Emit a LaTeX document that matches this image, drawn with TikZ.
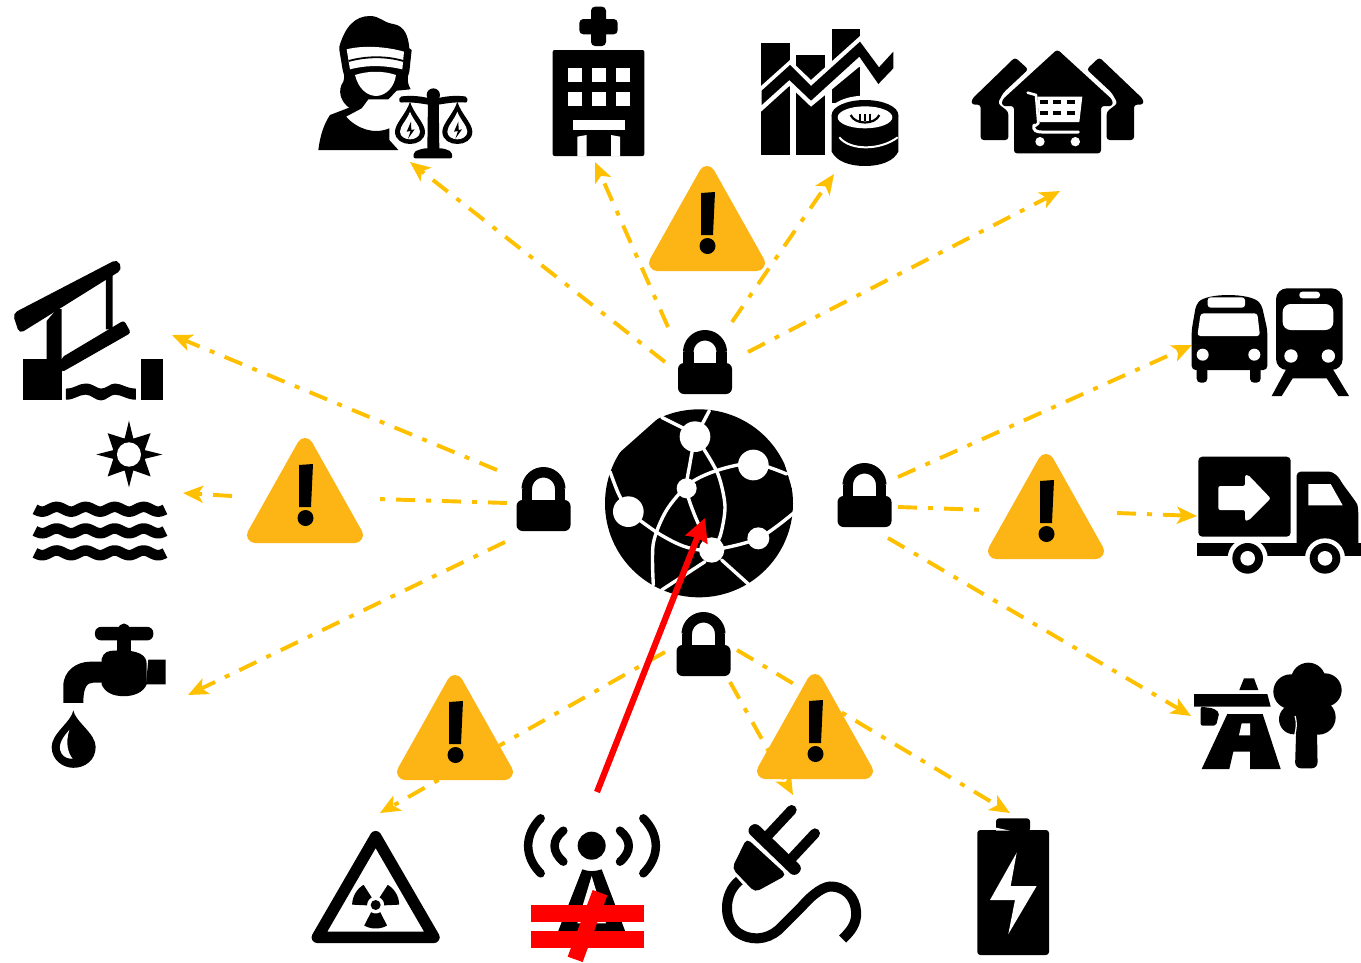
\documentclass[tikz,border=0pt]{standalone}
\usetikzlibrary{arrows.meta}
\definecolor{amberline}{HTML}{FFC000}
\definecolor{amberfill}{HTML}{FDB515}
\definecolor{redmark}{HTML}{FF0000}
\tikzset{
  link/.style={draw=amberline,line width=3.9pt,dash pattern=on 19pt off 11pt on 5pt off 11pt},
  linkarrow/.style={link,-{Stealth[length=20pt,width=17pt,inset=5pt]}},
  attack/.style={draw=redmark,line width=6.2pt,-{Stealth[length=23pt,width=23pt,inset=2pt]}},
  whitecut/.style={draw=white,line width=3.4pt,line cap=round},
  warnsign/.pic={
    \filldraw[amberfill,line width=16pt,line join=round] (0,-97) -- (-50,-8) -- (50,-8) -- cycle;
    \fill[black] (-6,-78) -- (8,-79) -- (6,-36) -- (-6,-36) -- cycle;
    \fill[black] (0.5,-25) circle[radius=8];
  },
  padlock/.pic={
    \draw[black,line width=10.5pt] plot[domain=180:360,samples=24] ({16.7*cos(\x)},{-42+16.7*sin(\x)});
    \draw[black,line width=10.5pt] (-16.7,-42) -- (-16.7,-28) (16.7,-42) -- (16.7,-28);
    \fill[black,rounded corners=6pt] (-27,-31) rectangle (27,0);
  },
}
\begin{document}
\begin{tikzpicture}[x=1pt,y=-1pt]
\useasboundingbox (0,0) rectangle (1361,962);
\fill[white] (0,0) rectangle (1361,962);

% connector ends
\coordinate (t1a) at (665,362); \coordinate (t1b) at (410,162);
\coordinate (t2a) at (668,327); \coordinate (t2b) at (595,162);
\coordinate (t3a) at (732,322); \coordinate (t3b) at (834,174);
\coordinate (t4a) at (748,352); \coordinate (t4b) at (1060,191);
\coordinate (l1a) at (497,470); \coordinate (l1b) at (172,335);
\coordinate (l2a) at (507,503); \coordinate (l2b) at (378,499);
\coordinate (l2c) at (232,496); \coordinate (l2d) at (183,493);
\coordinate (l3a) at (505,542); \coordinate (l3b) at (188,695);
\coordinate (r1a) at (898,477); \coordinate (r1b) at (1192,345);
\coordinate (r2a) at (898,507); \coordinate (r2b) at (985,510);
\coordinate (r2c) at (1117,513); \coordinate (r2d) at (1197,516);
\coordinate (r3a) at (888,538); \coordinate (r3b) at (1191,716);
\coordinate (b1a) at (665,652); \coordinate (b1b) at (380,813);
\coordinate (b2a) at (730,682); \coordinate (b2b) at (793,795);
\coordinate (b3a) at (737,650); \coordinate (b3b) at (1010,813);
\coordinate (atkfrom) at (597,792); \coordinate (atkto) at (705,518);

\draw[linkarrow] (t1a) -- (t1b);
\draw[linkarrow] (t2a) -- (t2b);
\draw[linkarrow] (t3a) -- (t3b);
\draw[linkarrow] (t4a) -- (t4b);
\draw[linkarrow] (l1a) -- (l1b);
\draw[link] (l2a) -- (l2b);
\draw[linkarrow] (l2c) -- (l2d);
\draw[linkarrow] (l3a) -- (l3b);
\draw[linkarrow] (r1a) -- (r1b);
\draw[link] (r2a) -- (r2b);
\draw[linkarrow] (r2c) -- (r2d);
\draw[linkarrow] (r3a) -- (r3b);
\draw[linkarrow] (b1a) -- (b1b);
\draw[linkarrow] (b2a) -- (b2b);
\draw[linkarrow] (b3a) -- (b3b);

% warning signs
\pic at (707,271) {warnsign};
\pic at (305,543) {warnsign};
\pic at (1046,559) {warnsign};
\pic at (455,780) {warnsign};
\pic at (815,779) {warnsign};

% padlocks
\pic at (705,394) {padlock};
\pic at (543.5,531) {padlock};
\pic at (864.5,527) {padlock};
\pic at (703.5,676) {padlock};

% globe
\begin{scope}[shift={(590,320)},scale=0.33333]
  \fill[black] (327,550) circle[radius=282];
  \fill[white] (215,285) -- (80,405) -- (50,380) -- (150,270) -- cycle;
  \fill[white] (585,435) -- (612,525) -- (640,500) -- (610,420) -- cycle;
  \draw[whitecut] (215,292) -- (295,332);
  \draw[whitecut] (358,272) -- (330,325);
  \draw[whitecut] plot[smooth] coordinates {(60,455) (85,520) (115,575)};
  \draw[whitecut] plot[smooth] coordinates {(115,575) (205,640) (285,680) (365,690) (505,655) (612,578)};
  \draw[whitecut] (345,725) -- (215,810);
  \draw[whitecut] (395,720) -- (475,792);
  \draw[whitecut] plot[smooth] coordinates {(190,795) (190,670) (230,570) (300,490) (385,450) (490,430) (590,462)};
  \draw[whitecut] plot[smooth] coordinates {(315,350) (300,430) (290,510) (320,600) (365,690)};
  \draw[whitecut] plot[smooth] coordinates {(340,385) (385,465) (405,560) (390,650) (365,690)};
  \fill[white] (315,350) circle[radius=46];
  \fill[white] (490,435) circle[radius=46];
  \fill[white] (115,575) circle[radius=46];
  \fill[white] (290,505) circle[radius=30];
  \fill[white] (365,690) circle[radius=38];
  \fill[white] (505,655) circle[radius=33];
\end{scope}

% justice + hospital
\begin{scope}[shift={(300,0)},scale=0.33333]
  \fill[black] (118,140) .. controls (135,80) and (165,48) .. (210,48) .. controls (240,48) and (250,68) .. (280,72) .. controls (315,78) and (325,110) .. (328,145) -- (335,150) -- (328,215) .. controls (320,235) and (322,250) .. (332,268) -- (290,272) -- (265,298) -- (205,298) -- (185,325) -- (150,325) .. controls (120,305) and (112,270) .. (130,245) .. controls (135,230) and (132,220) .. (128,210) -- (118,150) -- cycle;
  \fill[black] (55,450) .. controls (60,410) and (70,375) .. (90,345) -- (150,322) -- (185,325) -- (138,350) .. controls (170,385) and (220,405) .. (268,385) -- (268,420) -- (295,450) -- cycle;
  \fill[white] (140,148) .. controls (190,135) and (260,140) .. (312,155) -- (307,208) .. controls (250,195) and (200,195) .. (150,208) -- cycle;
  \draw[black,line width=1.8pt] (146,183) .. controls (200,168) and (260,168) .. (310,183);
  \fill[white] (165,225) .. controls (205,212) and (250,212) .. (288,225) .. controls (283,262) and (258,286) .. (230,288) .. controls (200,288) and (175,265) .. (165,225) -- cycle;
  % scales
  \foreach \px in {330,472} {
    \filldraw[black,draw=white,line width=9pt] (\px,305) .. controls (\px-10,340) and (\px-45,370) .. (\px-45,395) .. controls (\px-45,420) and (\px-22,432) .. (\px,432) .. controls (\px+22,432) and (\px+45,420) .. (\px+45,395) .. controls (\px+45,370) and (\px+10,340) .. (\px,305) -- cycle;
    \fill[black] (\px,305) .. controls (\px-10,340) and (\px-45,370) .. (\px-45,395) .. controls (\px-45,420) and (\px-22,432) .. (\px,432) .. controls (\px+22,432) and (\px+45,420) .. (\px+45,395) .. controls (\px+45,370) and (\px+10,340) .. (\px,305) -- cycle;
    \fill[white] (\px,335) .. controls (\px-8,358) and (\px-30,378) .. (\px-30,395) .. controls (\px-30,410) and (\px-14,418) .. (\px,418) .. controls (\px+14,418) and (\px+30,410) .. (\px+30,395) .. controls (\px+30,378) and (\px+8,358) .. (\px,335) -- cycle;
    \fill[black] (\px+3,365) -- (\px-10,395) -- (\px+2,393) -- (\px-6,416) -- (\px+14,388) -- (\px+4,390) -- cycle;
  }
  \fill[black,rounded corners=2pt] (298,290) .. controls (340,285) and (370,290) .. (400,298) .. controls (430,290) and (460,285) .. (502,290) -- (502,308) .. controls (460,305) and (430,312) .. (400,316) .. controls (370,312) and (340,305) .. (298,308) -- cycle;
  \fill[black] (400,285) circle[radius=20];
  \fill[black] (384,290) -- (416,290) -- (418,450) -- (382,450) -- cycle;
  \fill[black,rounded corners=2pt] (340,475) -- (342,455) -- (370,445) -- (430,445) -- (455,455) -- (457,475) -- cycle;
  % hospital
  \fill[black,rounded corners=4pt] (873,20) rectangle (918,138);
  \fill[black,rounded corners=4pt] (838,57) rectangle (953,103);
  \fill[black,rounded corners=2pt] (758,150) rectangle (1033,468);
  \foreach \wx in {803,875,947} \foreach \wy in {203,275} {
    \fill[white] (\wx,\wy) rectangle (\wx+42,\wy+42);
  }
  \fill[white] (818,360) rectangle (975,390);
  \fill[white] (832,410) -- (860,405) -- (860,470) -- (832,470) -- cycle;
  \fill[white] (933,405) -- (960,410) -- (960,470) -- (933,470) -- cycle;
\end{scope}

% chart + houses
\begin{scope}[shift={(730,0)},scale=0.33333]
  \fill[black] (93,130) rectangle (180,465);
  \fill[black] (198,165) rectangle (285,465);
  \fill[black] (305,88) rectangle (390,310);
  \fill[white] (93,258) -- (180,180) -- (243,240) -- (390,108) -- (490,140) -- (490,220) -- (445,265) -- (388,200) -- (243,320) -- (178,258) -- (93,335) -- cycle;
  \fill[black] (95,272) -- (180,195) -- (243,258) -- (390,125) -- (447,202) -- (490,155) -- (490,205) -- (445,252) -- (388,170) -- (243,302) -- (178,240) -- (95,315) -- cycle;
  \fill[white] (405,345) ellipse[x radius=112,y radius=58];
  \fill[white] (405,440) ellipse[x radius=112,y radius=68];
  \fill[black] (305,345) -- (305,455) .. controls (320,485) and (360,498) .. (405,498) .. controls (450,498) and (490,485) .. (505,455) -- (505,345) -- cycle;
  \fill[black] (405,345) ellipse[x radius=100,y radius=45];
  \fill[white] (405,352) ellipse[x radius=82,y radius=33];
  \draw[black,line width=2.2pt] (362,345) .. controls (375,375) and (435,375) .. (448,345);
  \draw[black,line width=1.6pt] (390,342) -- (390,362) (405,342) -- (405,364) (420,342) -- (420,362);
  \draw[white,line width=2pt] (328,412) .. controls (360,452) and (450,452) .. (503,412);
  % houses
  \fill[black,rounded corners=3pt] (982,148) -- (1148,300) -- (1148,318) -- (1113,318) -- (1113,460) -- (852,460) -- (852,318) -- (816,318) -- (816,300) -- cycle;
  \fill[black,rounded corners=3pt] (855,172) -- (895,208) -- (820,278) -- (803,310) -- (835,335) -- (835,420) -- (752,420) -- (752,314) -- (725,314) -- (725,298) -- cycle;
  \fill[black,rounded corners=3pt] (1108,172) -- (1070,208) -- (1145,278) -- (1163,310) -- (1130,335) -- (1130,420) -- (1212,420) -- (1212,314) -- (1240,314) -- (1240,298) -- cycle;
  % cart
  \draw[white,line width=2.6pt,line cap=round,line join=round] (893,278) -- (918,285) -- (925,370) -- (915,378);
  \fill[white] (922,290) -- (1057,290) -- (1048,366) -- (928,366) -- cycle;
  \foreach \cx in {940,980,1020} \foreach \cy in {305,338} {
    \fill[black] (\cx-10,\cy-6) rectangle (\cx+14,\cy+8);
  }
  \draw[white,line width=3pt,line cap=round] (912,375) .. controls (908,392) and (920,396) .. (935,396) -- (1045,396);
  \fill[white] (930,425) circle[radius=14];
  \fill[white] (1036,425) circle[radius=14];
\end{scope}

% left column
\begin{scope}[shift={(0,250)},xscale=0.3333,yscale=0.338]
  % bridge
  \fill[black] (140,210) -- (170,175) -- (185,175) -- (185,325) -- (140,325) -- cycle;
  \fill[black] (318,80) -- (338,70) -- (338,235) -- (318,235) -- cycle;
  \fill[black,rounded corners=5pt] (38,188) -- (352,27) -- (367,58) -- (58,248) -- cycle;
  \fill[black,rounded corners=3pt] (185,318) -- (372,208) -- (393,245) -- (185,362) -- cycle;
  \fill[black] (68,322) rectangle (185,445);
  \fill[black] (422,322) rectangle (490,445);
  \fill[black] (198,410) .. controls (225,410) and (235,395) .. (257,395) .. controls (280,395) and (290,410) .. (303,410) .. controls (320,410) and (330,395) .. (345,395) .. controls (365,395) and (380,410) .. (408,410) -- (408,443) .. controls (380,443) and (365,428) .. (345,428) .. controls (330,428) and (320,445) .. (303,445) .. controls (285,445) and (275,428) .. (257,428) .. controls (235,428) and (225,443) .. (198,443) -- cycle;
  % sun
  \fill[black] (387,505) -- (400,558) -- (452,542) -- (434,592) -- (487,605) -- (434,618) -- (452,670) -- (400,652) -- (387,702) -- (374,652) -- (323,670) -- (340,618) -- (289,605) -- (340,592) -- (323,542) -- (374,558) -- cycle;
  \fill[black] (387,605) circle[radius=47];
  \fill[white] (387,605) circle[radius=36];
  % waves
  \foreach \wy in {767,831,896} {
    \draw[black,line width=10.5pt] plot[domain=105:495,samples=90] (\x,{\wy-7*cos((\x-170)*4.138)});
  }
  % tap
  \fill[black,rounded corners=6pt] (285,1115) rectangle (460,1155);
  \fill[black] (372,1122) circle[radius=17];
  \fill[black] (352,1150) rectangle (392,1195);
  \fill[black] (345,1185) .. controls (420,1182) and (440,1200) .. (440,1225) -- (440,1285) .. controls (430,1310) and (400,1320) .. (372,1320) .. controls (340,1320) and (315,1310) .. (305,1285) -- (305,1210) .. controls (310,1190) and (325,1185) .. (345,1185) -- cycle;
  \fill[black] (445,1212) -- (497,1212) -- (497,1285) -- (438,1285) -- cycle;
  \fill[black] (190,1340) -- (190,1290) .. controls (190,1245) and (230,1218) .. (270,1218) -- (320,1218) -- (320,1280) -- (280,1280) .. controls (260,1280) and (250,1295) .. (250,1340) -- cycle;
  % drop
  \fill[black] (220,1362) .. controls (215,1395) and (155,1430) .. (155,1470) .. controls (155,1510) and (190,1532) .. (220,1532) .. controls (255,1532) and (287,1510) .. (287,1470) .. controls (287,1430) and (225,1395) .. (220,1362) -- cycle;
  \fill[white] (208,1420) .. controls (190,1440) and (170,1465) .. (185,1490) .. controls (195,1503) and (205,1505) .. (218,1505) .. controls (205,1490) and (195,1460) .. (208,1420) -- cycle;
\end{scope}

% right column
\begin{scope}[shift={(1170,280)},scale=0.33333]
  % bus
  \fill[black,rounded corners=4pt] (65,270) -- (65,150) -- (78,75) .. controls (110,38) and (240,38) .. (275,75) -- (292,150) -- (292,270) -- cycle;
  \fill[black,rounded corners=4pt] (80,260) rectangle (112,308);
  \fill[black,rounded corners=4pt] (240,260) rectangle (272,308);
  \fill[white,rounded corners=3pt] (113,52) rectangle (225,83);
  \fill[white,rounded corners=3pt] (92,100) -- (262,100) -- (270,168) -- (82,168) -- cycle;
  \fill[white] (98,224) circle[radius=18];
  \fill[white] (253,224) circle[radius=18];
  % train
  \fill[black,rounded corners=11pt] (318,25) rectangle (518,270);
  \fill[white,rounded corners=3pt] (388,35) rectangle (450,55);
  \fill[white,rounded corners=8pt] (338,72) rectangle (490,150);
  \fill[white] (363,228) circle[radius=20];
  \fill[white] (475,228) circle[radius=20];
  \fill[black] (350,265) -- (305,348) -- (335,348) -- (368,295) -- (470,295) -- (505,348) -- (537,348) -- (487,265) -- cycle;
  % truck
  \fill[black,rounded corners=4pt] (85,530) rectangle (362,770);
  \fill[white,rounded corners=2pt] (145,618) -- (225,618) -- (225,585) -- (235,585) -- (302,655) -- (235,722) -- (225,722) -- (225,690) -- (145,690) -- cycle;
  \fill[black,rounded corners=4pt] (380,800) -- (380,575) -- (465,575) .. controls (490,575) and (505,590) .. (515,608) -- (555,662) .. controls (563,675) and (565,690) .. (565,720) -- (565,800) -- cycle;
  \fill[white] (415,612) -- (482,612) -- (518,676) -- (415,676) -- cycle;
  \fill[black] (82,790) rectangle (573,827);
  \foreach \tx in {233,465} {
    \fill[white] (\tx,835) circle[radius=60];
    \fill[black] (\tx,835) circle[radius=46];
    \fill[white] (\tx,835) circle[radius=22];
  }
  % road
  \fill[black] (222,1195) -- (252,1195) -- (265,1230) -- (208,1230) -- cycle;
  \fill[black] (72,1242) -- (292,1242) -- (302,1280) -- (72,1280) -- cycle;
  \fill[black,rounded corners=2pt] (92,1280) -- (130,1285) -- (148,1298) -- (138,1337) -- (92,1337) -- cycle;
  \fill[black] (172,1302) -- (278,1302) -- (332,1467) -- (240,1467) -- (240,1415) -- (190,1415) -- (178,1467) -- (95,1467) -- cycle;
  \fill[white] (215,1330) -- (240,1330) -- (240,1366) -- (207,1366) -- cycle;
  % tree
  \fill[black] (415,1200) circle[radius=52];
  \fill[black] (362,1235) circle[radius=52];
  \fill[black] (465,1230) circle[radius=50];
  \fill[black] (445,1312) circle[radius=52];
  \fill[black] (372,1318) circle[radius=45];
  \fill[black] (350,1200) -- (480,1200) -- (480,1340) -- (350,1340) -- cycle;
  \fill[black,rounded corners=6pt] (380,1300) -- (440,1300) -- (443,1465) -- (375,1465) -- cycle;
  \draw[white,line width=1.2pt] (375,1308) .. controls (382,1330) and (378,1350) .. (374,1366);
\end{scope}

% radiation + antenna
\begin{scope}[shift={(300,790)},scale=0.33333]
  \draw[black,line width=11.5pt,line join=round] (227,140) -- (52,442) -- (402,442) -- cycle;
  \fill[black] (227,345) circle[radius=15];
  \foreach \ang in {210,330,90} {
    \draw[black,line width=15pt] plot[domain=\ang-30:\ang+30,samples=12] ({227+48*cos(\x)},{345+48*sin(\x)});
  }
  % antenna
  \fill[black] (875,167) circle[radius=42];
  \draw[black,line width=8.5pt,line cap=round] (790,122) .. controls (755,150) and (755,185) .. (790,215);
  \draw[black,line width=8.5pt,line cap=round] (722,85) .. controls (672,135) and (672,200) .. (722,250);
  \draw[black,line width=8.5pt,line cap=round] (960,122) .. controls (995,150) and (995,185) .. (960,215);
  \draw[black,line width=8.5pt,line cap=round] (1030,85) .. controls (1080,135) and (1080,200) .. (1030,250);
  \fill[black] (847,238) .. controls (865,245) and (885,245) .. (905,238) -- (978,430) -- (772,430) -- cycle;
  \fill[white] (875,258) -- (918,400) -- (832,400) -- cycle;
  \fill[redmark] (693,345) rectangle (1032,397);
  \fill[redmark] (693,423) rectangle (1032,475);
  \fill[redmark] (878,300) -- (922,316) -- (848,516) -- (803,500) -- cycle;
\end{scope}

% plug + battery
\begin{scope}[shift={(700,790)},scale=0.33333]
  \draw[black,line width=10pt,line cap=round] (205,135) -- (275,60);
  \draw[black,line width=10pt,line cap=round] (275,205) -- (345,130);
  \fill[black,rounded corners=6pt] (138,122) -- (165,95) -- (310,235) -- (283,262) -- cycle;
  \fill[black,rounded corners=5pt] (140,145) -- (96,235) -- (165,307) -- (260,255) -- cycle;
  \draw[white,line width=1.2pt] (145,146) -- (177,170);
  \draw[black,line width=10pt] (118,272) .. controls (70,310) and (70,390) .. (110,425) .. controls (150,455) and (200,450) .. (235,420) -- (305,350) .. controls (340,310) and (375,285) .. (400,290) .. controls (450,295) and (472,340) .. (468,380) .. controls (465,410) and (445,430) .. (428,447);
  % battery
  \fill[black,rounded corners=3pt] (832,120) rectangle (1047,495);
  \fill[black,rounded corners=3pt] (888,85) rectangle (990,125);
  \fill[white] (888,113) -- (930,122) -- (888,122) -- cycle;
  \fill[white] (950,188) -- (870,330) -- (945,330) -- (925,432) -- (1010,288) -- (932,288) -- cycle;
\end{scope}

% attack arrow
\draw[attack] (atkfrom) -- (atkto);
\end{tikzpicture}
\end{document}
